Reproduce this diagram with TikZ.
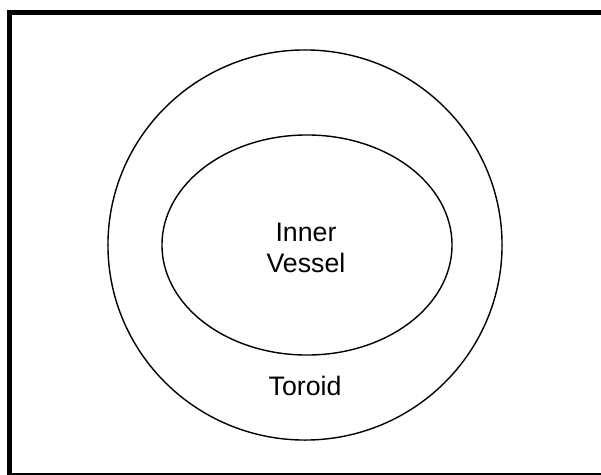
\documentclass[tikz,border=0pt]{standalone}
\usepackage{fontspec}
\setmainfont{Liberation Sans}
\usetikzlibrary{positioning,calc,shapes.geometric}

\tikzset{
  wall/.style={draw, ellipse, line width=1pt, inner sep=0pt},
  frameline/.style={draw, line width=3.6pt},
  label/.style={font=\fontsize{19}{22.5}\selectfont, align=center, inner sep=0pt}
}

\begin{document}
\begin{tikzpicture}[x=0.025cm, y=-0.025cm]

  % Fix the page to the reference size
  \useasboundingbox (0,0) rectangle (601,475);
  \clip (0,0) rectangle (601,475);

  % Define the frame and the two walls
  \draw[frameline] (9.5,12.5) rectangle (620,476);
  \node[wall, minimum width=9.85cm, minimum height=9.75cm] (outer) at (305,245) {};
  \node[wall, minimum width=7.25cm, minimum height=5.5cm] (vessel) at (307,245) {};

  % Labels
  \node[label] (inner) at (306,248) {Inner\\Vessel};
  \node[label, anchor=base] (toroid) at (305,395) {Toroid};
\end{tikzpicture}
\end{document}
